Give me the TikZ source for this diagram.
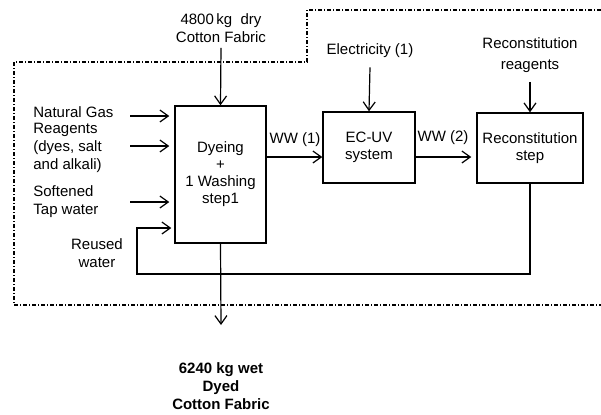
\documentclass[tikz,border=0pt]{standalone}
\usepackage{fontspec}
\setmainfont{Liberation Sans}
\usetikzlibrary{arrows.meta,positioning}

\begin{document}
\begin{tikzpicture}[
    x=0.5pt, y=-0.5pt,
    every node/.style={font=\fontsize{7.5}{9}\selectfont},
    box/.style={draw, line width=0.7pt, align=center, inner sep=0pt,
                font=\fontsize{7.5}{8.5}\selectfont},
    lbl/.style={align=center, inner sep=0pt},
    arr/.style={-{Straight Barb[length=4.2pt,width=6pt]}, line width=0.6pt},
    bound/.style={line width=0.75pt, dash pattern=on 2pt off 1pt on 0.5pt off 1pt}
]
\useasboundingbox (0,0) rectangle (601,414);

% process boxes
\node[box, minimum width=45.5pt, minimum height=68.5pt] (dye) at (220.5,174.5)
    {Dyeing\\+\\1 Washing\\step1};
\node[box, minimum width=46pt, minimum height=35.5pt] (ecuv) at (369,147.5)
    {EC-UV\\system};
\node[box, minimum width=53pt, minimum height=35pt] (recon) at (530,148)
    {Reconstitution\\step};

% inputs and outputs
\node[lbl] (fabin) at (221,28) {4800\,kg\ \ dry\\Cotton Fabric};
\node[lbl] (elec) at (370,51) {Electricity (1)};
\node[lbl, font=\fontsize{7.5}{10.5}\selectfont] (reag) at (530,55) {Reconstitution\\reagents};
\node[lbl, anchor=west] (gas) at (33,112) {Natural Gas};
\node[lbl, anchor=west, align=left] (chem) at (33,148) {Reagents\\(dyes, salt\\and alkali)};
\node[lbl, anchor=west, align=left] (tap) at (33,202) {Softened\\Tap water};
\node[lbl] (reuse) at (97,253) {Reused\\water};
\node[lbl, font=\bfseries\fontsize{7.5}{9}\selectfont] (fabout) at (221,386)
    {6240 kg wet\\Dyed\\Cotton Fabric};
\node[lbl] (ww1) at (295,140) {WW (1)};
\node[lbl] (ww2) at (443,138) {WW (2)};

\coordinate (cgas) at (130,116);
\coordinate (cchem) at (130,146);
\coordinate (ctap) at (130,202);
\coordinate (crw) at (137,228);
\coordinate (cbl) at (137,274);
\coordinate (cout) at (221,325);
\coordinate (lvl) at (0,157);

\draw[arr] (fabin.south) ++(0,5) -- (dye.north);
\draw[arr] (elec.south) ++(0,9) -- (ecuv.north);
\draw[arr] (reag.south) ++(0,9) -- (recon.north);
\draw[arr, shorten >=2.5pt] (cgas) -- (cgas -| dye.west);
\draw[arr, shorten >=2.5pt] (cchem) -- (cchem -| dye.west);
\draw[arr, shorten >=2.5pt] (ctap) -- (ctap -| dye.west);
\draw[arr] (lvl -| dye.east) -- (lvl -| ecuv.west);
\draw[arr, shorten >=2.5pt] (lvl -| ecuv.east) -- (lvl -| recon.west);
\draw[arr] (dye.south) -- (cout);
\draw[arr, shorten >=1.5pt] (recon.south) |- (cbl) -- (crw) -- (crw -| dye.west);

% system boundary
\draw[bound] (601,10) -- (307,10) -- (307,62) -- (14,62) -- (14,305) -- (601,305);
\end{tikzpicture}
\end{document}
